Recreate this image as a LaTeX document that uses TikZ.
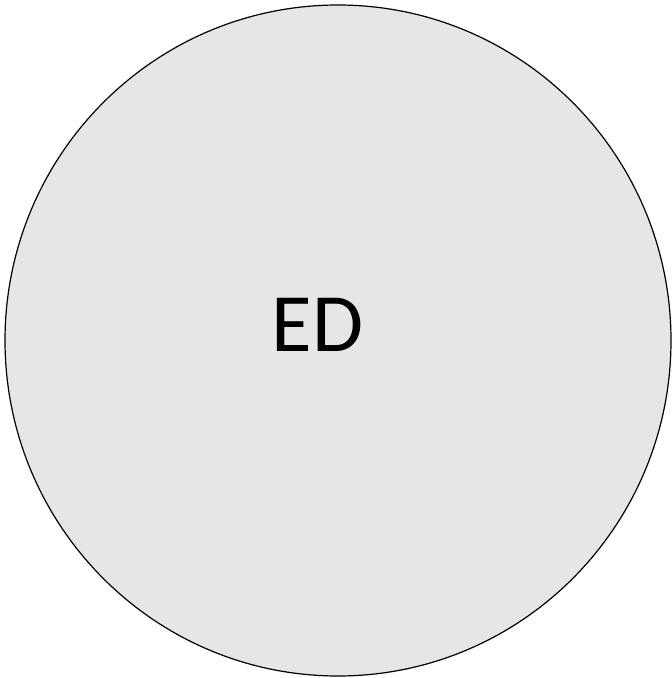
\documentclass[tikz,border=0pt]{standalone}
\usepackage{fontspec}
\setmainfont{Carlito}
\usetikzlibrary{shapes.geometric}
\definecolor{discfill}{HTML}{E6E6E6}
\tikzset{disc/.style={ellipse, draw=black, fill=discfill, line width=1.2pt, minimum width=666pt, minimum height=671pt, inner sep=0pt},
lbl/.style={inner sep=0pt, font=\fontsize{83}{99}\selectfont}}
\begin{document}
\begin{tikzpicture}[x=1pt,y=1pt]
\useasboundingbox (0,0) rectangle (672,678);
\node[disc] (circ) at (338,337.5) {};
\node[lbl] (ed) at (317.5,353.5) {ED};
\end{tikzpicture}
\end{document}
